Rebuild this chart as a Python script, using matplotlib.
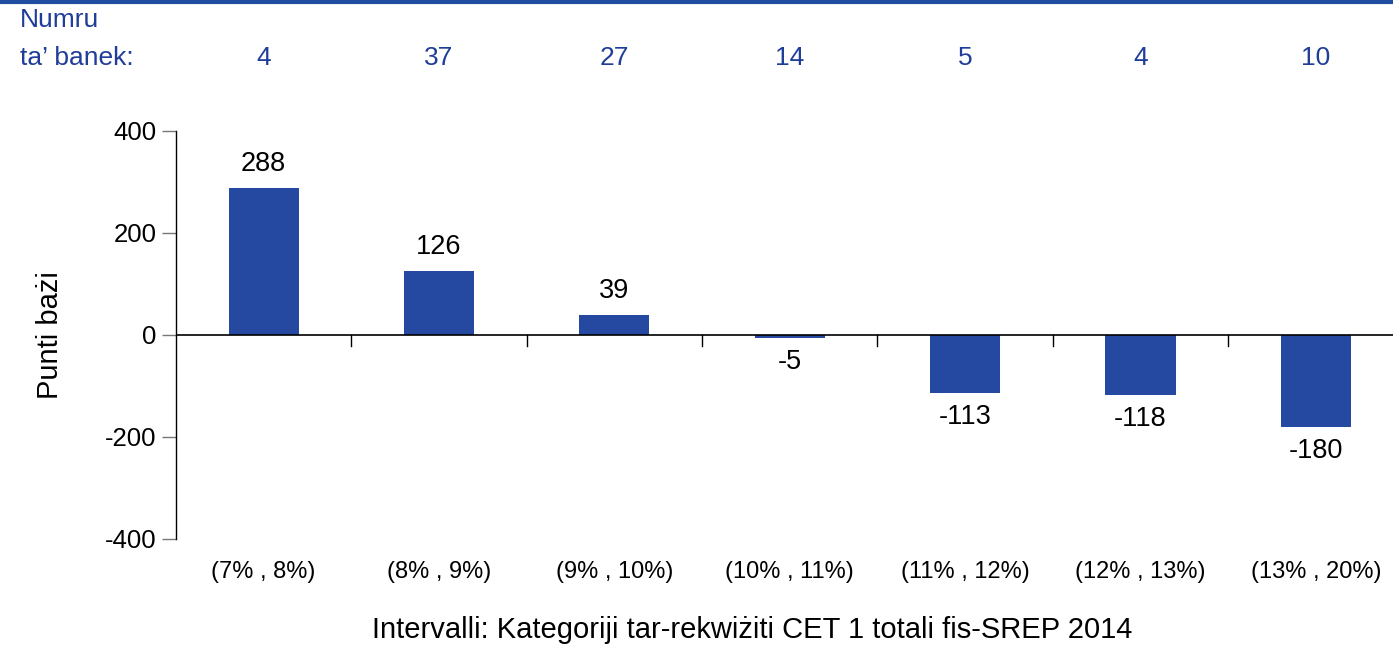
import matplotlib
matplotlib.use('Agg')
import matplotlib.pyplot as plt
import matplotlib.transforms as mtransforms
from matplotlib.lines import Line2D

plt.rcParams['font.family'] = ['Liberation Sans', 'DejaVu Sans']

# ─── data ───
categories = ['(7% , 8%)', '(8% , 9%)', '(9% , 10%)', '(10% , 11%)',
              '(11% , 12%)', '(12% , 13%)', '(13% , 20%)']
values = [288, 126, 39, -5, -113, -118, -180]
bank_counts = [4, 37, 27, 14, 5, 4, 10]
yticks = [-400, -200, 0, 200, 400]

bar_color = '#2549A0'
text_blue = '#1F3D99'

fig = plt.figure(figsize=(13.93, 6.45), dpi=100)
# axes spans x 176px → ~1403px, y 131px → 539px
ax = fig.add_axes([176/1393, 1 - 539/645, (1403.5 - 176)/1393, (539 - 131)/645])

x = list(range(len(categories)))
ax.bar(x, values, width=0.4, color=bar_color, zorder=2)

ax.set_xlim(-0.5, len(categories) - 0.5)
ax.set_ylim(-400, 400)

# spines: left only, x-axis drawn at zero
for s in ['top', 'right', 'bottom']:
    ax.spines[s].set_visible(False)
ax.spines['left'].set_color('black')
ax.spines['left'].set_linewidth(1.0)
ax.axhline(0, color='black', linewidth=1.2, zorder=3)

ax.set_yticks(yticks)
ax.set_yticklabels([str(t) for t in yticks], fontsize=18.5)
ax.tick_params(axis='y', direction='out', length=10, width=1.0, color='#777777', pad=4)
ax.set_xticks([])

# category separator ticks hanging below the zero line
for b in range(1, len(categories)):
    ax.plot([b - 0.5, b - 0.5], [0, -22], color='black', linewidth=1.0, zorder=3, clip_on=False)

# category labels below plot
trans_lbl = mtransforms.blended_transform_factory(ax.transData, fig.transFigure)
for xi, lab in zip(x, categories):
    ax.text(xi, 1 - 572/645, lab, transform=trans_lbl, ha='center', va='center', fontsize=17)

# value labels
for xi, v in zip(x, values):
    if v >= 0:
        ax.annotate(str(v), (xi, v), xytext=(0, 8), textcoords='offset points',
                    ha='center', va='bottom', fontsize=19.5)
    else:
        ax.annotate(str(v), (xi, v), xytext=(0, -8), textcoords='offset points',
                    ha='center', va='top', fontsize=19.5)

# bank counts row at top
for xi, n in zip(x, bank_counts):
    ax.text(xi, 1 - 58/645, str(n), transform=trans_lbl, ha='center', va='center',
            fontsize=19, color=text_blue)
fig.text(20/1393, 1 - 20/645, 'Numru', ha='left', va='center', fontsize=19, color=text_blue)
fig.text(20/1393, 1 - 58/645, 'ta\u2019 banek:', ha='left', va='center', fontsize=19, color=text_blue)

# top rule
fig.add_artist(Line2D([0, 1], [1 - 2/645, 1 - 2/645], transform=fig.transFigure,
                      color='#1F4E9E', linewidth=3))

fig.text(50/1393, 1 - 335/645, 'Punti bażi', rotation=90, ha='center', va='center', fontsize=21)
fig.text(752/1393, 1 - 630/645, 'Intervalli: Kategoriji tar-rekwiżiti CET 1 totali fis-SREP 2014',
         ha='center', va='center', fontsize=21)

fig.savefig('out.png', dpi=100)
